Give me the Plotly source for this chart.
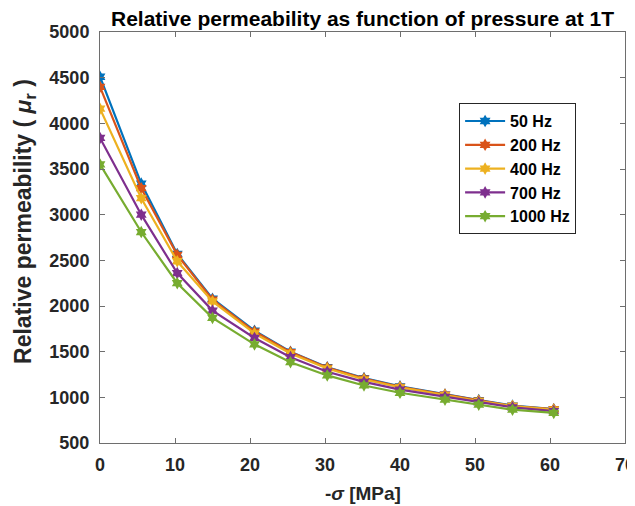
import plotly.graph_objects as go

pressure = [0, 5.5, 10.3, 15, 20.6, 25.4, 30.3, 35.2, 40, 46, 50.5, 55, 60.5]
mu_50 = [4510, 3340, 2570, 2080, 1730, 1500, 1330, 1210, 1120, 1030, 970, 910, 870]
mu_200 = [4400, 3290, 2560, 2070, 1720, 1495, 1325, 1205, 1115, 1030, 965, 905, 870]
mu_400 = [4160, 3180, 2490, 2050, 1700, 1480, 1315, 1195, 1110, 1025, 960, 905, 865]
mu_700 = [3840, 3000, 2360, 1950, 1650, 1440, 1280, 1170, 1085, 1005, 945, 890, 850]
mu_1000 = [3550, 2810, 2250, 1870, 1580, 1385, 1240, 1130, 1050, 975, 920, 865, 830]

series_names = ["50 Hz", "200 Hz", "400 Hz", "700 Hz", "1000 Hz"]
series_values = [mu_50, mu_200, mu_400, mu_700, mu_1000]
colors = ["#0072BD", "#D95319", "#EDB120", "#7E2F8E", "#77AC30"]

FONT = "Arial, Liberation Sans, sans-serif"

fig = go.Figure()
for name, vals, c in zip(series_names, series_values, colors):
    fig.add_trace(go.Scatter(
        x=pressure, y=vals, name=name, mode="lines+markers",
        line=dict(color=c, width=2.2),
        marker=dict(symbol="hexagram", size=9.5, color=c, line=dict(width=0)),
    ))

axis_common = dict(
    showline=True, linecolor="#6e6e6e", linewidth=1, mirror="ticks",
    ticks="inside", ticklen=5, tickcolor="#6e6e6e", showgrid=False, zeroline=False,
    automargin=False, ticklabeloverflow="allow",
    tickfont=dict(family=FONT, size=18, color="#262626", weight="bold"),
)

# The page body adds an 8px offset, so the figure is sized 8px smaller.
fig.update_layout(
    width=627, height=498,
    margin=dict(l=92, r=10, t=24, b=63),
    paper_bgcolor="white", plot_bgcolor="white",
    title=dict(text="<b>Relative permeability as function of pressure at 1T</b>",
               x=0.5, xref="paper", xanchor="center", y=0.979, yanchor="middle", yref="container",
               font=dict(family=FONT, size=21, color="black")),
    xaxis=dict(range=[0, 70], dtick=10, tick0=0, ticklabelstandoff=5, **axis_common),
    yaxis=dict(range=[500, 5000], dtick=500, tick0=500, ticklabelstandoff=6, **axis_common),
    legend=dict(x=0.684, y=0.827, xanchor="left", yanchor="top",
                bgcolor="white", bordercolor="#262626", borderwidth=1,
                font=dict(family=FONT, size=16, color="black", weight="bold"),
                tracegroupgap=0, itemwidth=40),
    showlegend=True,
    annotations=[
        dict(text="<b>-<i>σ</i> [MPa]</b>", xref="paper", yref="paper", x=0.5, y=-0.1224,
             xanchor="center", yanchor="middle", showarrow=False,
             font=dict(family=FONT, size=19, color="#262626")),
        dict(text="<b>Relative permeability ( <i>μ</i><sub>r</sub> )</b>", xref="paper", yref="paper",
             x=-0.145, y=0.54, xanchor="center", yanchor="middle", textangle=-90, showarrow=False,
             font=dict(family=FONT, size=23, color="#262626")),
    ],
)

fig.write_html("out.html")
